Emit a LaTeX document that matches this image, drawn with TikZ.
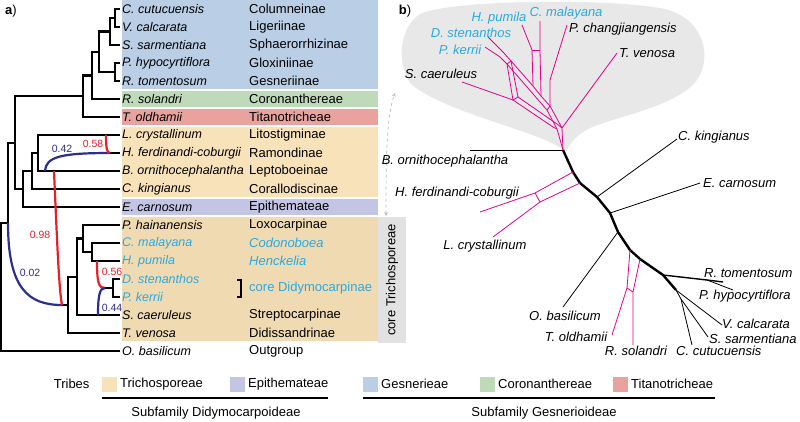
\documentclass[tikz,border=0pt]{standalone}
\usepackage{fontspec}
\setmainfont{Liberation Sans}
\newcommand{\labsize}{\fontsize{13}{15}\selectfont}
\newcommand{\spsize}{\fontsize{12.5}{15}\selectfont}
\definecolor{gesblue}{RGB}{186,206,230}
\definecolor{corgreen}{RGB}{190,218,184}
\definecolor{titred}{RGB}{232,163,158}
\definecolor{tritan}{RGB}{248,226,186}
\definecolor{coretan}{RGB}{240,218,178}
\definecolor{epipurple}{RGB}{196,196,228}
\definecolor{coregray}{RGB}{226,226,226}
\definecolor{blobgray}{RGB}{232,232,232}
\definecolor{hybred}{RGB}{228,32,40}
\definecolor{hybblue}{RGB}{44,46,142}
\definecolor{netpink}{RGB}{228,0,140}
\definecolor{spcyan}{RGB}{40,170,225}
\tikzset{
  branch/.style={line width=2.2pt},
  hybr/.style={hybred, line width=2.2pt},
  hybb/.style={hybblue, line width=2.2pt},
  sp/.style={anchor=west, inner sep=2pt, font=\spsize\itshape},
  trb/.style={anchor=west, inner sep=0pt},
  hnum/.style={font=\fontsize{10.5}{12}\selectfont},
  netline/.style={line width=0.8pt},
  netbone/.style={line width=2.4pt, line join=round},
  netpk/.style={netpink, line width=0.8pt},
  tiplab/.style={font=\labsize\itshape, inner sep=0pt},
  swatch/.style={minimum size=15pt, inner sep=0pt}
}
\begin{document}
\begin{tikzpicture}[x=1pt, y=-1pt, font=\labsize]
    \useasboundingbox (0,0) rectangle (800,421);

    % Coloured boxes behind the taxa
    \fill[gesblue] (122,0) rectangle (378,89);
    \fill[corgreen] (122,91) rectangle (378,107);
    \fill[titred] (122,109) rectangle (378,125);
    \fill[tritan] (122,127) rectangle (378,197);
    \fill[epipurple] (122,199) rectangle (378,215);
    \fill[coretan] (122,217) rectangle (378,341);
    \fill[coregray] (378,217) rectangle (406,343);
    \node[rotate=90] (coretri) at (392,280) {core Trichosporeae};

    % Panel labels
    \node (pa) at (11,11) {\textbf{a})};
    \node (pb) at (405,11) {\textbf{b})};

    % Taxa
    \node[sp] (s0) at (120,9) {C. cutucuensis};
    \node[sp] (s1) at (120,27) {V. calcarata};
    \node[sp] (s2) at (120,45) {S. sarmentiana};
    \node[sp] (s3) at (120,63) {P. hypocyrtiflora};
    \node[sp] (s4) at (120,81) {R. tomentosum};
    \node[sp] (s5) at (120,99) {R. solandri};
    \node[sp] (s6) at (120,117) {T. oldhamii};
    \node[sp] (s7) at (120,135) {L. crystallinum};
    \node[sp] (s8) at (120,153) {H. ferdinandi-coburgii};
    \node[sp] (s9) at (120,171) {B. ornithocephalantha};
    \node[sp] (s10) at (120,189) {C. kingianus};
    \node[sp] (s11) at (120,207) {E. carnosum};
    \node[sp] (s12) at (120,225) {P. hainanensis};
    \node[sp, spcyan] (s13) at (120,243) {C. malayana};
    \node[sp, spcyan] (s14) at (120,261) {H. pumila};
    \node[sp, spcyan] (s15) at (120,279) {D. stenanthos};
    \node[sp, spcyan] (s16) at (120,297) {P. kerrii};
    \node[sp] (s17) at (120,315) {S. caeruleus};
    \node[sp] (s18) at (120,333) {T. venosa};
    \node[sp] (s19) at (120,351) {O. basilicum};

    % Subtribes and tribes
    \node[trb] (t0) at (249,9) {Columneinae};
    \node[trb] (t1) at (249,27) {Ligeriinae};
    \node[trb] (t2) at (249,45) {Sphaerorrhizinae};
    \node[trb] (t3) at (249,63) {Gloxiniinae};
    \node[trb] (t4) at (249,81) {Gesneriinae};
    \node[trb] (t5) at (249,99) {Coronanthereae};
    \node[trb] (t6) at (249,117) {Titanotricheae};
    \node[trb] (t7) at (249,135) {Litostigminae};
    \node[trb] (t8) at (249,153) {Ramondinae};
    \node[trb] (t9) at (249,171) {Leptoboeinae};
    \node[trb] (t10) at (249,189) {Corallodiscinae};
    \node[trb] (t11) at (249,207) {Epithemateae};
    \node[trb] (t12) at (249,225) {Loxocarpinae};
    \node[trb, spcyan, font=\labsize\itshape] (t13) at (249,243) {Codonoboea};
    \node[trb, spcyan, font=\labsize\itshape] (t14) at (249,261) {Henckelia};
    \node[trb, spcyan] (t15) at (249,288) {core Didymocarpinae};
    \node[trb] (t17) at (249,315) {Streptocarpinae};
    \node[trb] (t18) at (249,333) {Didissandrinae};
    \node[trb] (t19) at (249,351) {Outgroup};
    \draw[line width=1.2pt] (237,280) -| (241,297) -- (237,297);

    % Internal nodes of the tree
    \coordinate (g1) at (115,18);
    \coordinate (g2) at (110,31.5);
    \coordinate (g3) at (115,72);
    \coordinate (g4) at (99,51.75);
    \coordinate (g5) at (92,75.4);
    \coordinate (g6) at (83,96.2);
    \coordinate (d1) at (38,153);
    \coordinate (d2) at (32,171);
    \coordinate (d3) at (23,189);
    \coordinate (n1) at (15,142.6);
    \coordinate (n0) at (8,223);
    \coordinate (rt) at (1,287);
    \coordinate (c1) at (68,305);
    \coordinate (c2) at (77,276.75);
    \coordinate (c3) at (83,238.5);
    \coordinate (c4) at (92,252);
    \coordinate (c5) at (113,288);
    \coordinate (h1) at (62,305);
    \coordinate (h2) at (105,288);
    \coordinate (h3) at (110,153);

    % Draw the tree
    \draw[branch] (g1) |- (s0.west);
    \draw[branch] (g1) |- (s1.west);
    \draw[branch] (g2) |- (g1);
    \draw[branch] (g2) |- (s2.west);
    \draw[branch] (g3) |- (s3.west);
    \draw[branch] (g3) |- (s4.west);
    \draw[branch] (g4) |- (g2);
    \draw[branch] (g4) |- (g3);
    \draw[branch] (g5) |- (g4);
    \draw[branch] (g5) |- (s5.west);
    \draw[branch] (g6) |- (g5);
    \draw[branch] (g6) |- (s6.west);
    \draw[branch] (d1) |- (s7.west);
    \draw[branch] (d1) |- (s9.west);
    \draw[branch] (d2) |- (d1);
    \draw[branch] (d2) |- (s10.west);
    \draw[branch] (d3) |- (d2);
    \draw[branch] (d3) |- (s11.west);
    \draw[branch] (n1) |- (g6);
    \draw[branch] (n1) |- (d3);
    \draw[branch] (n0) |- (n1);
    \draw[branch] (rt) |- (n0);
    \draw[branch] (rt) |- (s19.west);
    \draw[branch] (h1) -- (c1);
    \draw[branch] (c1) |- (c2);
    \draw[branch] (c1) |- (s18.west);
    \draw[branch] (c2) |- (c3);
    \draw[branch] (c2) |- (s17.west);
    \draw[branch] (c3) |- (s12.west);
    \draw[branch] (c3) |- (c4);
    \draw[branch] (c4) |- (s13.west);
    \draw[branch] (c4) |- (s14.west);
    \draw[branch] (h2) -- (c5);
    \draw[branch] (c5) |- (s15.west);
    \draw[branch] (c5) |- (s16.west);
    \draw[branch] (h3) -- (s8.west);

    % Hybrid edges with inheritance
    \coordinate (r58) at (106,135);
    \coordinate (b42) at (45,171);
    \coordinate (r98) at (54,171);
    \coordinate (r56) at (97,261);
    \coordinate (b44) at (98,315);
    \draw[hybb] (b42) .. controls (46,157) and (60,153) .. (h3);
    \draw[hybr] (r58) .. controls (106,149) and (107,153) .. (h3);
    \draw[hybb] (n0) .. controls (8,288) and (28,305) .. (h1);
    \draw[hybr] (r98) .. controls (57,240) and (59,290) .. (h1);
    \draw[hybr] (r56) .. controls (97,284) and (99,288) .. (h2);
    \draw[hybb] (b44) .. controls (98,294) and (100,288) .. (h2);
    \node[hnum, hybblue] (w42) at (62,149) {0.42};
    \node[hnum, hybred] (w58) at (93,144) {0.58};
    \node[hnum, hybred] (w98) at (40,235) {0.98};
    \node[hnum, hybblue] (w02) at (30,273) {0.02};
    \node[hnum, hybred] (w56) at (112,272) {0.56};
    \node[hnum, hybblue] (w44) at (112,308) {0.44};

    % Grey cloud round the core Trichosporeae
    \fill[blobgray] (566,152) .. controls (545,132) and (450,115) .. (412,85)
      .. controls (398,70) and (396,30) .. (420,14)
      .. controls (450,0) and (600,-2) .. (660,8)
      .. controls (700,15) and (712,50) .. (700,75)
      .. controls (685,105) and (620,115) .. (590,128)
      .. controls (578,134) and (570,142) .. (566,152);
    \coordinate (arrtop) at (395,93);
    \coordinate (arrbot) at (386,216);
    \draw[gray!55, dashed, line width=0.7pt, <->, >=stealth] (arrbot) .. controls (386,150) and (387,115) .. (arrtop);

    % Network: backbone
    \coordinate (b0) at (563,150);
    \coordinate (b1) at (573,172);
    \coordinate (b2) at (580,183);
    \coordinate (b3) at (597,197);
    \coordinate (b4) at (610,213);
    \coordinate (b5) at (618,232);
    \coordinate (b6) at (630,250);
    \coordinate (b7) at (640,259);
    \coordinate (b8) at (663,275);
    \coordinate (b9) at (676,290);
    \draw[netbone] (b0) -- (b1) -- (b2) -- (b3) -- (b4) -- (b5) -- (b6) -- (b7) -- (b8) -- (b9);

    % Network: tips
    \coordinate (tBor) at (470,150);
    \coordinate (tKin) at (677,139);
    \coordinate (tCar) at (700,183);
    \coordinate (tBas) at (563,307);
    \coordinate (bP) at (707,280);
    \coordinate (tTom) at (723,282);
    \coordinate (tHyp) at (733,290);
    \coordinate (tCal) at (722,325);
    \coordinate (bS) at (681,299);
    \coordinate (tSar) at (708,337);
    \coordinate (tCut) at (692,345);
    \draw[netline] (b0) -- (tBor);
    \draw[netline] (b3) -- (tKin);
    \draw[netline] (b4) -- (tCar);
    \draw[netline] (b5) -- (tBas);
    \draw[netline, line width=1.4pt] (b8) -- (bP) -- (tTom);
    \draw[netline] (bP) -- (tHyp);
    \draw[netline] (b9) -- (tCal);
    \draw[netline] (b9) -- (bS) -- (tSar);
    \draw[netline] (bS) -- (tCut);

    % Network: pink splits
    \coordinate (hf1) at (535,193);
    \coordinate (hf2) at (540,202);
    \coordinate (tFer) at (480,212);
    \coordinate (tCry) at (493,237);
    \draw[netpk] (b1) -- (hf1) -- (tFer);
    \draw[netpk] (b2) -- (hf2) -- (tCry);
    \draw[netpk] (hf1) -- (hf2);
    \coordinate (to1) at (627,288);
    \coordinate (to2) at (633,292);
    \coordinate (tOld) at (612,335);
    \coordinate (tSol) at (633,345);
    \draw[netpk] (b6) -- (to1) -- (tOld);
    \draw[netpk] (b7) -- (to2) -- (tSol);
    \draw[netpk] (to1) -- (to2);

    \coordinate (tKer) at (485,47);
    \coordinate (tSte) at (488,37);
    \coordinate (tPum) at (522,25);
    \coordinate (tMal) at (540,21);
    \coordinate (tCha) at (567,25);
    \coordinate (tCae) at (462,82);
    \coordinate (tVen) at (617,53);
    \coordinate (q1) at (500,57);
    \coordinate (q2) at (503,52);
    \coordinate (q3) at (507,64);
    \coordinate (q4) at (511,61);
    \coordinate (q5) at (513,100);
    \coordinate (q6) at (518,97);
    \coordinate (q7) at (532,50);
    \coordinate (q8) at (540,50);
    \coordinate (q9) at (533,86);
    \coordinate (q10) at (541,96);
    \coordinate (q11) at (550,80);
    \coordinate (q12) at (550,106);
    \coordinate (q13) at (547,110);
    \coordinate (q14) at (553,127);
    \coordinate (q15) at (557,124);
    \coordinate (pL) at (557,129);
    \coordinate (pv) at (562,128);
    \draw[netpk] (tKer) -- (q1) -- (q3) -- (q13) -- (pL) -- (b0);
    \draw[netpk] (tSte) -- (q2) -- (q4) -- (q9) -- (q10) -- (q12) -- (pv) -- (b0);
    \draw[netpk] (q3) -- (q4);
    \draw[netpk] (q3) -- (q5) -- (q6) -- (q4);
    \draw[netpk] (tCae) -- (q5) -- (q14) -- (pL);
    \draw[netpk] (q6) -- (q15) -- (pv);
    \draw[netpk] (tPum) -- (q7) -- (q9);
    \draw[netpk] (q7) -- (q8);
    \draw[netpk] (tMal) -- (q8) -- (q10);
    \draw[netpk] (tCha) -- (q11) -- (q12);
    \draw[netpk] (q13) -- (q12);
    \draw[netpk] (tVen) -- (pv);

    % Network: labels
    \node[tiplab] (lBor) at (445,161) {B. ornithocephalantha};
    \node[tiplab] (lFer) at (457,193) {H. ferdinandi-coburgii};
    \node[tiplab] (lCry) at (485,246) {L. crystallinum};
    \node[tiplab, anchor=west] (lKin) at (678,137) {C. kingianus};
    \node[tiplab, anchor=west] (lCar) at (703,183) {E. carnosum};
    \node[tiplab] (lBas) at (565,316) {O. basilicum};
    \node[tiplab] (lOld) at (576,337) {T. oldhamii};
    \node[tiplab] (lSol) at (636,351) {R. solandri};
    \node[tiplab, anchor=west] (lTom) at (704,273) {R. tomentosum};
    \node[tiplab, anchor=west] (lHyp) at (699,296) {P. hypocyrtiflora};
    \node[tiplab, anchor=west] (lCal) at (722,324) {V. calcarata};
    \node[tiplab, anchor=west] (lSar) at (709,339) {S. sarmentiana};
    \node[tiplab, anchor=west] (lCut) at (676,351) {C. cutucuensis};
    \node[tiplab] (lCae) at (441,74) {S. caeruleus};
    \node[tiplab, spcyan] (lKer) at (460,50) {P. kerrii};
    \node[tiplab, spcyan] (lSte) at (471,33) {D. stenanthos};
    \node[tiplab, spcyan] (lPum) at (499,18) {H. pumila};
    \node[tiplab, spcyan] (lMal) at (566,13) {C. malayana};
    \node[tiplab, anchor=west] (lCha) at (569,29) {P. changjiangensis};
    \node[tiplab, anchor=west] (lVen) at (619,53) {T. venosa};

    % Legend
    \node[anchor=east] (ltrib) at (93,384) {Tribes};
    \node[swatch, fill=tritan] (sw1) at (109.5,384.5) {};
    \node[trb] (lg1) at (120,384) {Trichosporeae};
    \node[swatch, fill=epipurple] (sw2) at (237.5,384.5) {};
    \node[trb] (lg2) at (248,384) {Epithemateae};
    \node[swatch, fill=gesblue] (sw3) at (370.5,384.5) {};
    \node[trb] (lg3) at (381,384) {Gesnerieae};
    \node[swatch, fill=corgreen] (sw4) at (487.5,384.5) {};
    \node[trb] (lg4) at (498,384) {Coronanthereae};
    \node[swatch, fill=titred] (sw5) at (620.5,384.5) {};
    \node[trb] (lg5) at (631,384) {Titanotricheae};
    \draw[line width=1.1pt] (102,398) -- (328,398);
    \draw[line width=1.1pt] (363,398) -- (715,398);
    \node (sfd) at (216,413) {Subfamily Didymocarpoideae};
    \node (sfg) at (544,413) {Subfamily Gesnerioideae};
\end{tikzpicture}
\end{document}
